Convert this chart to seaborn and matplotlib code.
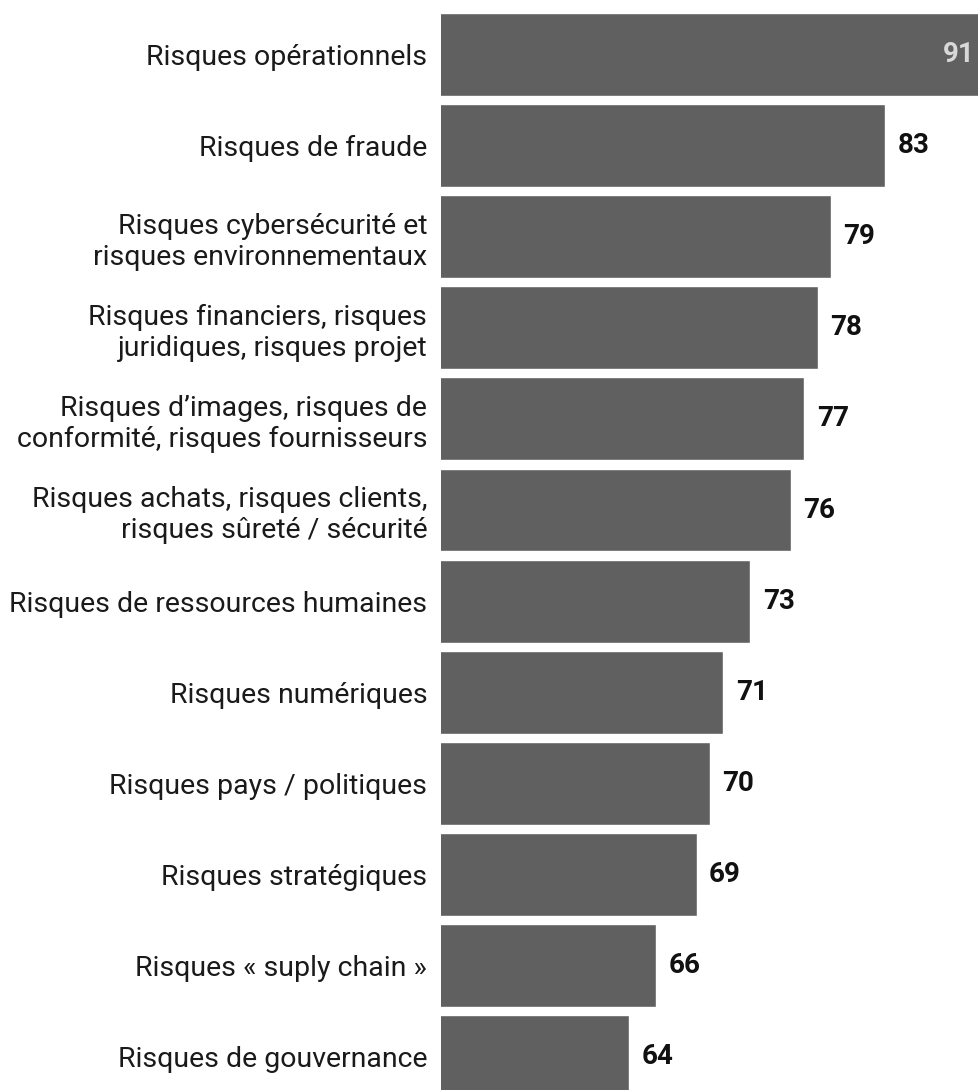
import matplotlib
matplotlib.use("Agg")
import matplotlib.pyplot as plt
import seaborn as sns
import pandas as pd

categories = [
    "Risques opérationnels",
    "Risques de fraude",
    "Risques cybersécurité et\nrisques environnementaux",
    "Risques financiers, risques\njuridiques, risques projet",
    "Risques d\u2019images, risques de\nconformité, risques fournisseurs",
    "Risques achats, risques clients,\nrisques sûreté / sécurité",
    "Risques de ressources humaines",
    "Risques numériques",
    "Risques pays / politiques",
    "Risques stratégiques",
    "Risques \u00ab suply chain \u00bb",
    "Risques de gouvernance",
]
values = [91, 83, 79, 78, 77, 76, 73, 71, 70, 69, 66, 64]

df = pd.DataFrame({"risque": categories, "score": values})

sns.set_theme(style="white")
plt.rcParams["font.family"] = ["Roboto", "DejaVu Sans"]

fig = plt.figure(figsize=(9.79, 10.9), dpi=100)
ax = fig.add_axes([0.4505, 0.0, 0.5495, 1.0])

sns.barplot(data=df, x="score", y="risque", orient="h", color="#606060",
            saturation=1, width=0.91, ax=ax)

ax.set_xlim(50, 90)
ax.set_ylim(11.366, -0.598)

xmax = ax.get_xlim()[1]
for i, v in enumerate(values):
    if v > xmax:
        # bar runs off the frame: put the value inside, on the right
        ax.annotate(str(v), xy=(xmax, i), xytext=(-3, 0), textcoords="offset points",
                    ha="right", va="center", fontsize=20, fontweight="bold",
                    color="#d8d8d8")
    else:
        ax.annotate(str(v), xy=(v, i), xytext=(9, 0), textcoords="offset points",
                    ha="left", va="center", fontsize=20, fontweight="bold",
                    color="#111111")

ax.set_xlabel("")
ax.set_ylabel("")
ax.set_xticks([])
ax.tick_params(axis="y", length=0, pad=10, labelsize=20.5, labelcolor="#1a1a1a")
sns.despine(ax=ax, left=True, bottom=True)

fig.savefig("out.png", dpi=100, facecolor="white")
